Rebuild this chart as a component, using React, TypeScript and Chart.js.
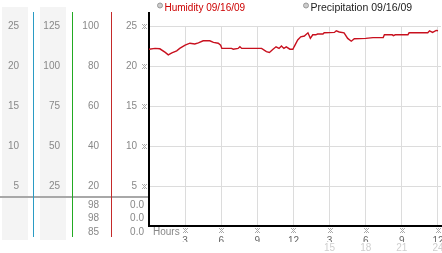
import React, { useEffect, useRef } from 'react';
import { Chart, registerables } from 'chart.js';

Chart.register(...registerables);

// ---- data ----
const hours = [
  0, 0.5, 0.9, 1.35, 1.6, 1.9, 2.3, 2.55, 3.0, 3.4, 3.8, 4.1, 4.5, 5.05, 5.35, 5.75, 5.95, 6.05,
  6.85, 7.0, 7.4, 7.55, 7.7, 9.35, 9.75, 10.0, 10.3, 10.55, 10.8, 11.0, 11.2, 11.4, 11.7, 11.95,
  12.05, 12.35, 12.6, 12.9, 13.2, 13.4, 13.6, 13.85, 14.0, 14.45, 14.55, 15.4, 15.55, 15.8, 16.2,
  16.5, 16.8, 17.05, 18.0, 18.6, 19.45, 19.55, 20.2, 20.3, 20.45, 21.5, 21.6, 23.15, 23.3, 23.55,
  23.85, 24.0,
];
const humidity = [
  22.1, 22.2, 22.15, 21.7, 21.4, 21.65, 21.9, 22.2, 22.6, 22.85, 22.75, 22.9, 23.15, 23.15, 22.95,
  22.85, 22.6, 22.2, 22.2, 22.1, 22.2, 22.4, 22.2, 22.2, 21.8, 21.7, 22.1, 22.4, 22.2, 22.5, 22.2,
  22.4, 22.1, 22.1, 22.4, 23.25, 23.65, 23.75, 24.15, 23.45, 23.9, 23.9, 24.0, 24.0, 24.15, 24.2,
  24.4, 24.25, 24.15, 23.45, 23.1, 23.4, 23.45, 23.55, 23.55, 23.9, 23.9, 23.8, 23.9, 23.9, 24.15,
  24.15, 24.4, 24.2, 24.45, 24.4,
];
const precipHours = [0, 24];
const precipitation = [0, 0];

const xTicks = [3, 6, 9, 12, 15, 18, 21, 24];
const yTicks = [5, 10, 15, 20, 25];
const scaleATicks = [5, 10, 15, 20, 25];
const scaleBTicks = [25, 50, 75, 100, 125];
const scaleCTicks = [20, 40, 60, 80, 100];
const humidityStats = ['98', '98', '85'];
const precipStats = ['0.0', '0.0', '0.0'];
const legendLabels = ['Humidity 09/16/09', 'Precipitation 09/16/09'];
const xTitle = 'Hours';

const FONT = "'Liberation Sans', Arial, sans-serif";
const LABEL_GRAY = '#888';

function mark(ctx: CanvasRenderingContext2D, cx: number, cy: number) {
  const pts = [[-2, -2], [2, -2], [-1, -1], [1, -1], [0, 0], [-1, 1], [1, 1], [-2, 2], [2, 2], [0, -2], [0, 2]];
  ctx.fillStyle = '#aaa';
  for (const [dx, dy] of pts) ctx.fillRect(Math.round(cx) + dx, Math.round(cy) + dy, 1, 1);
}

const panelPlugin = {
  id: 'panel',
  beforeDraw(chart: any) {
    const ctx = chart.ctx;
    const a = chart.scales.yA, b = chart.scales.yB;
    ctx.save();
    ctx.fillStyle = '#f4f4f4';
    ctx.fillRect(a.left + 2, 7, a.right - a.left - 7, 233);
    ctx.fillRect(b.left + 7, 7, b.right - b.left - 13, 233);
    ctx.restore();
  },
  afterDraw(chart: any) {
    const ctx = chart.ctx;
    const { yA, yB, yC, y, x } = chart.scales;
    const area = chart.chartArea;
    ctx.save();
    // separator
    ctx.fillStyle = '#a8a8a8';
    ctx.fillRect(0, 196, Math.round(area.left) - 1, 2);
    // colored column lines
    const lines: [any, string][] = [[yA, '#2a9bc4'], [yB, '#22aa22'], [yC, '#c42a2a']];
    for (const [s, c] of lines) {
      ctx.fillStyle = c;
      ctx.fillRect(Math.round(s.right), 12, 1, 225);
    }
    // y axis extension
    ctx.fillStyle = '#000';
    ctx.fillRect(Math.round(area.left) - 1, 12, 2, area.top - 12);
    // tick marks
    for (const v of yTicks) mark(ctx, area.left - 5, y.getPixelForValue(v));
    for (const v of xTicks) mark(ctx, x.getPixelForValue(v), area.bottom + 4);
    // stats rows
    ctx.font = `10px ${FONT}`;
    ctx.fillStyle = LABEL_GRAY;
    ctx.textAlign = 'right';
    ctx.textBaseline = 'middle';
    humidityStats.forEach((t, i) => ctx.fillText(t, yC.right - 12, 205 + i * 13.5));
    precipStats.forEach((t, i) => ctx.fillText(t, y.right - 5, 205 + i * 13.5));
    // x title
    ctx.textAlign = 'left';
    ctx.fillText(xTitle, area.left + 4, 232);
    // legend
    const colors = ['#cc0000', '#222'];
    const xs = [area.left + 11, area.left + 157];
    legendLabels.forEach((t, i) => {
      ctx.beginPath();
      ctx.arc(xs[i], 5.5, 2.5, 0, Math.PI * 2);
      ctx.fillStyle = '#ccc';
      ctx.fill();
      ctx.strokeStyle = '#999';
      ctx.lineWidth = 1;
      ctx.stroke();
      ctx.fillStyle = colors[i];
      ctx.textAlign = 'left';
      ctx.textBaseline = 'alphabetic';
      ctx.font = `${i === 1 ? 10.5 : 10}px ${FONT}`;
      ctx.fillText(t, xs[i] + 4.5, 10.5);
    });
    ctx.restore();
  },
};

function sideAxis(ticks: number[], weight: number, width: number, pad: number) {
  return {
    type: 'linear',
    position: 'left',
    weight,
    min: 0,
    max: ticks[ticks.length - 1],
    afterBuildTicks: (s: any) => { s.ticks = ticks.map((v) => ({ value: v })); },
    afterFit: (s: any) => { s.width = width; s.paddingTop = 0; s.paddingBottom = 0; },
    grid: { display: false, drawTicks: false },
    border: { display: false },
    ticks: { color: LABEL_GRAY, padding: pad, font: { family: FONT, size: 10 } },
  };
}

export default function App() {
  const ref = useRef<HTMLCanvasElement>(null);
  useEffect(() => {
    if (!ref.current) return;
    const chart = new Chart(ref.current, {
      type: 'line',
      data: {
        datasets: [
          {
            label: legendLabels[0],
            data: hours.map((h, i) => ({ x: h, y: humidity[i] })),
            borderColor: '#c8101e',
            borderWidth: 1.4,
            pointRadius: 0,
            tension: 0,
            yAxisID: 'y',
            xAxisID: 'x',
          },
          {
            label: legendLabels[1],
            data: precipHours.map((h, i) => ({ x: h, y: precipitation[i] })),
            borderColor: '#000',
            borderWidth: 1,
            pointRadius: 0,
            yAxisID: 'y',
            xAxisID: 'x',
          },
        ],
      },
      options: {
        animation: false,
        responsive: false,
        layout: { padding: { top: 26, right: 1, left: 0, bottom: 0 } },
        plugins: { legend: { display: false }, tooltip: { enabled: false } },
        scales: {
          x: {
            type: 'linear',
            position: 'bottom',
            weight: 1,
            min: 0,
            max: 24.25,
            afterBuildTicks: (s: any) => { s.ticks = xTicks.map((v) => ({ value: v })); },
            afterFit: (s: any) => { s.height = 16; s.paddingLeft = 0; s.paddingRight = 0; },
            grid: { color: '#dcdcdc', lineWidth: 1, drawTicks: false },
            border: { color: '#000', width: 2 },
            ticks: {
              color: '#666',
              padding: 9,
              maxRotation: 0,
              autoSkip: false,
              font: { family: FONT, size: 10 },
              callback: (v: any) => String(v > 12 ? v - 12 : v),
            },
          },
          x2: {
            type: 'linear',
            position: 'bottom',
            weight: 2,
            min: 0,
            max: 24.25,
            afterBuildTicks: (s: any) => { s.ticks = xTicks.map((v) => ({ value: v })); },
            afterFit: (s: any) => { s.height = 11; s.paddingLeft = 0; s.paddingRight = 0; },
            grid: { display: false, drawTicks: false },
            border: { display: false },
            ticks: {
              color: '#cfcfcf',
              padding: 0,
              maxRotation: 0,
              autoSkip: false,
              font: { family: FONT, size: 10 },
              callback: (v: any) => (v > 12 ? String(v) : ''),
            },
          },
          yA: sideAxis(scaleATicks, 4, 33, 14),
          yB: sideAxis(scaleBTicks, 3, 39, 12),
          yC: sideAxis(scaleCTicks, 2, 39, 12),
          y: {
            type: 'linear',
            position: 'left',
            weight: 1,
            min: 0,
            max: 25,
            afterBuildTicks: (s: any) => { s.ticks = yTicks.map((v) => ({ value: v })); },
            afterFit: (s: any) => { s.width = 38; s.paddingTop = 0; s.paddingBottom = 0; },
            grid: { color: '#dcdcdc', lineWidth: 1, drawTicks: false },
            border: { color: '#000', width: 2 },
            ticks: { color: LABEL_GRAY, padding: 12, font: { family: FONT, size: 10 } },
          },
        },
      } as any,
      plugins: [panelPlugin],
    });
    return () => chart.destroy();
  }, []);
  return (
    <div style={{ position: 'absolute', left: 0, top: 0, width: 442, height: 253, background: '#fff' }}>
      <canvas ref={ref} width={442} height={253} style={{ width: 442, height: 253, display: 'block' }} />
    </div>
  );
}
